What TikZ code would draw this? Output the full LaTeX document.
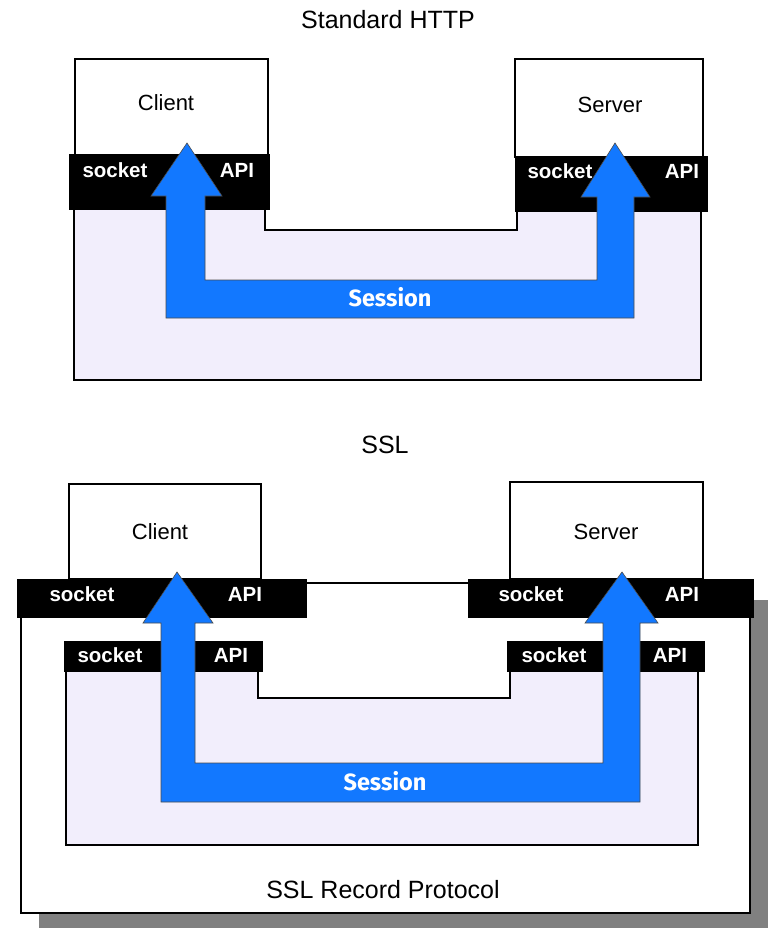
\documentclass[tikz,border=0pt]{standalone}
\usepackage{fontspec}
\setmainfont{Liberation Sans}
\newfontfamily\sessfont{Fira Sans}
\definecolor{lav}{RGB}{242,238,252}
\definecolor{sblue}{RGB}{18,120,255}
\definecolor{shad}{RGB}{128,128,128}
\begin{document}
\begin{tikzpicture}[x=1pt,y=-1pt,
  lavreg/.style={fill=lav,draw=black,line width=1.2pt},
  appbox/.style={fill=white,draw=black,line width=1.2pt},
  band/.style={fill=black,draw=black},
  uarrow/.style={fill=sblue,draw=black!70,line width=0.6pt},
  bandtxt/.style={text=white,font=\fontsize{20.5}{20.5}\selectfont\bfseries,inner sep=0pt},
  apptxt/.style={font=\fontsize{22}{22}\selectfont,inner sep=0pt},
  titletxt/.style={font=\fontsize{25}{25}\selectfont,inner sep=0pt},
  sesstxt/.style={text=white,font=\fontsize{23.5}{23.5}\selectfont\sessfont\bfseries,inner sep=0pt}]
\useasboundingbox (0,0) rectangle (769,929);
\fill[white] (0,0) rectangle (769,929);

% ---------- Standard HTTP ----------
\node[titletxt] (t1) at (388,20) {Standard HTTP};
\draw[lavreg] (74,205) -- (74,380) -- (701,380) -- (701,205) -- (517,205) -- (517,230) -- (265,230) -- (265,205) -- cycle;
\draw[appbox] (75,59) rectangle (268,155);
\draw[appbox] (515,59) rectangle (703,157);
\draw[band] (69,154) rectangle (269,209);
\draw[band] (515,156) rectangle (707,211);
\draw[uarrow] (187,143) -- (222,196) -- (205,196) -- (205,280) -- (597,280) -- (597,197) -- (581,197)
  -- (615,143) -- (650,197) -- (634,197) -- (634,318) -- (166,318) -- (166,196) -- (151,196) -- cycle;
\node[apptxt] (c1) at (166,103) {Client};
\node[apptxt] (s1) at (610,105) {Server};
\node[bandtxt] (cs1) at (115,170) {socket};
\node[bandtxt] (ca1) at (237,170) {API};
\node[bandtxt] (ss1) at (560,171) {socket};
\node[bandtxt] (sa1) at (682,171) {API};
\node[sesstxt] (se1) at (390,297) {Session};

% ---------- SSL ----------
\node[titletxt] (t2) at (385,445) {SSL};
\fill[shad] (39,600) rectangle (768,928);
\draw[appbox] (21,583) rectangle (750,913);
\draw[lavreg] (66,668) -- (66,845) -- (698,845) -- (698,668) -- (510,668) -- (510,698) -- (258,698) -- (258,668) -- cycle;
\draw[appbox] (69,484) rectangle (261,579);
\draw[appbox] (510,482) rectangle (703,579);
\draw[band] (17,579) rectangle (306,617);
\draw[band] (468,579) rectangle (753,617);
\draw[band] (64,641) rectangle (262,671);
\draw[band] (507,641) rectangle (704,671);
\draw[uarrow] (177,572) -- (213,623) -- (195,623) -- (195,763) -- (603,763) -- (603,623) -- (585,623)
  -- (622,572) -- (658,623) -- (640,623) -- (640,802) -- (161,802) -- (161,623) -- (143,623) -- cycle;
\node[apptxt] (c2) at (160,532) {Client};
\node[apptxt] (s2) at (606,532) {Server};
\node[bandtxt] (cs2) at (82,594) {socket};
\node[bandtxt] (ca2) at (245,594) {API};
\node[bandtxt] (ss2) at (531,594) {socket};
\node[bandtxt] (sa2) at (682,594) {API};
\node[bandtxt] (ics2) at (110,655) {socket};
\node[bandtxt] (ica2) at (231,655) {API};
\node[bandtxt] (iss2) at (554,655) {socket};
\node[bandtxt] (isa2) at (670,655) {API};
\node[sesstxt] (se2) at (385,781) {Session};
\node[titletxt] (rp) at (383,890) {SSL Record Protocol};
\end{tikzpicture}
\end{document}
